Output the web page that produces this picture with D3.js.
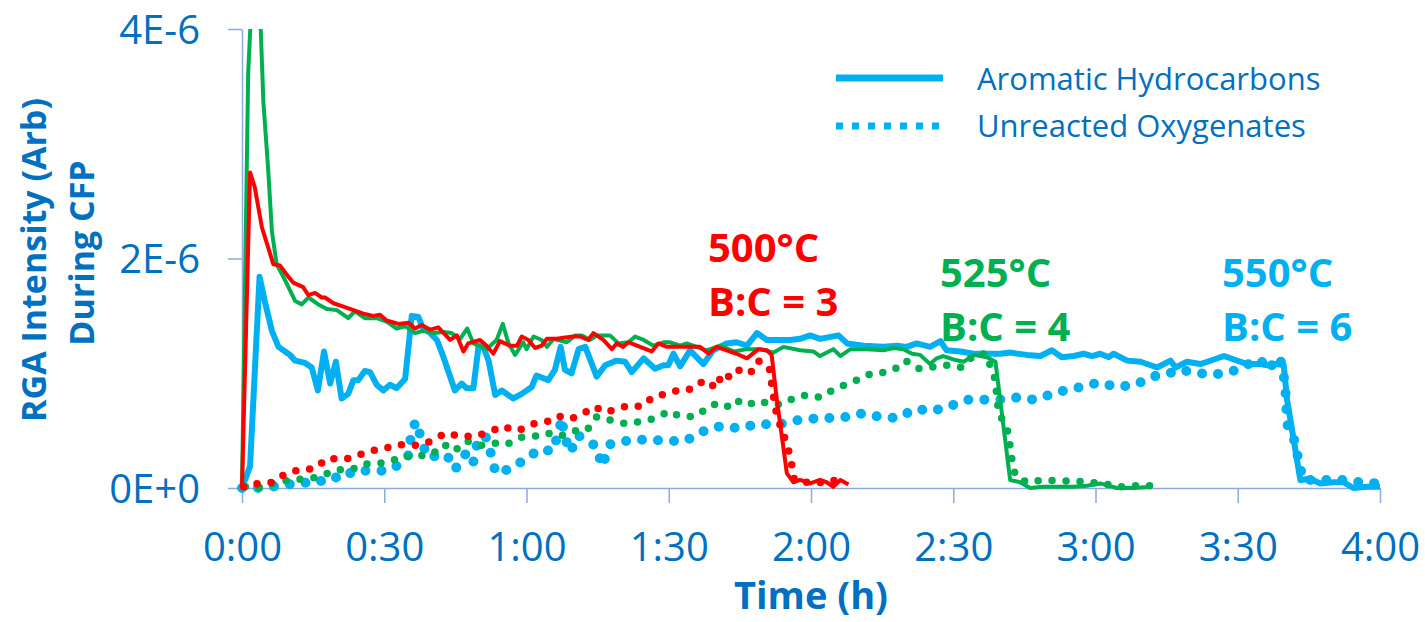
<!DOCTYPE html>
<html>
<head>
  <meta charset="UTF-8">
  <title>RGA Intensity During CFP</title>
  <style>
    body { margin: 0; background: #fff; }
    svg { display: block; font-family: "Open Sans", sans-serif; }
  </style>
</head>
<body>
<svg></svg>
<script src="https://d3js.org/d3.v7.min.js"></script>
<script>

let width = 1425, height = 622;

// time in minutes, intensity in units of 1E-6
const arom500 = [[0,0],[1.7,2.75],[2.7,2.62],[4.2,2.27],[5.5,2.10],[6.6,1.95],[8,1.94],[9.8,1.84],[10.8,1.79],[12.9,1.75],[14,1.68],[15.4,1.70],[16.8,1.66],[17.5,1.66],[19.3,1.61],[21.4,1.58],[23.5,1.55],[25.6,1.52],[27.7,1.50],[29.1,1.51],[30.5,1.46],[33,1.43],[35.1,1.44],[36.5,1.39],[37.9,1.42],[39.7,1.38],[41.4,1.40],[43.9,1.29],[45.3,1.33],[46.7,1.19],[47.7,1.26],[50.2,1.29],[51.6,1.24],[53,1.17],[54.4,1.28],[56.5,1.24],[58,1.24],[59,1.32],[60.4,1.29],[61.8,1.22],[63.2,1.24],[64.3,1.30],[66.4,1.30],[67.8,1.31],[69.9,1.32],[71.3,1.32],[73,1.29],[74.1,1.35],[76.2,1.29],[78,1.21],[79,1.26],[80.4,1.23],[81.5,1.27],[83.3,1.24],[86.4,1.19],[87.8,1.26],[89.6,1.23],[92.4,1.23],[96.6,1.23],[98.4,1.17],[100.1,1.23],[102.2,1.20],[104.3,1.17],[106.5,1.13],[108.9,1.21],[110.7,1.20],[111.7,1.16],[112.8,0.77],[114.9,0.13],[116.3,0.05],[117.7,0.07],[119.8,0.04],[121.9,0.07],[123.3,0.05],[124.7,0.01],[126.2,0.07],[127.9,0.03]];
const oxy500 = [[0.3,0.01],[3.4,0.04],[6.6,0.05],[9.4,0.13],[12.2,0.16],[15.4,0.17],[18,0.26],[21.4,0.25],[23.8,0.27],[26.4,0.32],[29.8,0.34],[32.6,0.38],[35.8,0.37],[38.2,0.38],[40.5,0.42],[43,0.48],[46,0.45],[49.2,0.45],[52.2,0.49],[55.1,0.54],[57.4,0.50],[59.7,0.52],[61.6,0.56],[64.4,0.58],[66.5,0.63],[69.2,0.60],[71.7,0.64],[74.3,0.71],[76.8,0.66],[79,0.69],[81.9,0.72],[84.3,0.71],[86.9,0.80],[89.7,0.82],[92.4,0.86],[95,0.86],[97.5,0.94],[100.1,0.87],[101.2,1.00],[103.3,0.96],[104.9,1.03],[107.2,1.00],[108.8,1.11],[111.2,1.05],[111.7,0.91],[112.2,0.77],[112.8,0.63],[113.9,0.50],[115.1,0.36],[115.8,0.23],[116.5,0.07],[119,0.05],[121.5,0.04],[123.5,0.07],[126,0.06]];

const arom525 = [[0,0],[1.3,3.61],[2.2,4.4],[3.6,4.4],[4.5,3.37],[5.5,2.79],[6.3,2.24],[7.3,1.95],[9.1,1.81],[11.2,1.63],[12.6,1.60],[14,1.66],[16.1,1.60],[17.9,1.56],[20,1.55],[22.4,1.48],[23.8,1.54],[25.9,1.48],[28.4,1.48],[30.5,1.45],[32.6,1.39],[34.4,1.41],[36.5,1.35],[38.2,1.37],[40.4,1.35],[42.5,1.36],[44.2,1.35],[46,1.30],[47.5,1.39],[48.8,1.26],[51.6,1.21],[53.7,1.29],[55,1.43],[56.2,1.26],[57.6,1.16],[59.3,1.27],[60,1.21],[61.5,1.32],[63.2,1.29],[64.3,1.23],[65.7,1.30],[68.5,1.27],[70.3,1.33],[71.7,1.33],[73.4,1.29],[74.8,1.33],[77.6,1.33],[79.4,1.26],[81.5,1.27],[82.9,1.32],[84.7,1.29],[86.8,1.24],[88.9,1.27],[90.3,1.27],[92.4,1.24],[93.8,1.26],[98,1.20],[100.8,1.24],[103.7,1.19],[106.5,1.21],[109.3,1.21],[112.1,1.18],[114.2,1.23],[117.7,1.20],[120.5,1.19],[121.9,1.15],[124.7,1.21],[126.2,1.15],[128.3,1.21],[131.8,1.21],[135.3,1.20],[137.4,1.22],[139.5,1.21],[141.3,1.17],[143,1.16],[145.1,1.08],[146.5,1.13],[147.9,1.15],[150,1.12],[152.2,1.10],[154.3,1.16],[157.1,1.14],[158.9,1.10],[159.9,0.77],[162,0.07],[164.1,0.05],[166.2,0.0],[169,0.01],[175.4,0.01],[178.2,0.02],[181,0.04],[184.5,0],[188,0],[191.9,0.01]];
const oxy525 = [[0.7,0.01],[4.2,0],[7.3,0.05],[10.5,0.07],[13.6,0.08],[16.6,0.10],[19.8,0.16],[23.1,0.16],[25.6,0.21],[28.2,0.21],[31.2,0.23],[33.7,0.27],[36.9,0.28],[40,0.29],[42.6,0.38],[44.7,0.32],[47.4,0.41],[50.2,0.37],[53.2,0.39],[55.8,0.38],[58.6,0.44],[61.6,0.45],[64.3,0.48],[67.1,0.45],[69.9,0.50],[72.7,0.50],[74.8,0.62],[77.8,0.59],[81,0.56],[84.3,0.58],[87.3,0.61],[90.1,0.67],[92,0.63],[95.2,0.62],[97.2,0.67],[99.4,0.73],[102.1,0.70],[104,0.77],[106.3,0.72],[109.1,0.76],[111.4,0.73],[113.9,0.73],[116.7,0.79],[119.2,0.81],[121.9,0.79],[124.5,0.85],[127.2,0.90],[130.2,0.95],[132.8,1.00],[134.6,1.00],[137.5,1.03],[139.9,1.11],[142.7,1.04],[148.6,1.07],[151.8,1.05],[154.4,1.16],[156.9,1.17],[158.9,0.94],[159.2,0.79],[159.6,0.65],[161.3,0.53],[161.9,0.39],[162.4,0.24],[163.1,0.11],[165.5,0.05],[168.9,0.07],[172.4,0.06],[175.4,0.06],[178.5,0.05],[181.7,0.04],[184.9,0.01],[188.4,0.02],[191.7,0.02]];

const arom550 = [[0,0],[1.7,0.19],[3.7,1.84],[4.9,1.61],[6.3,1.37],[7.7,1.23],[9.1,1.19],[10.1,1.16],[11.2,1.11],[13.3,1.09],[14.7,1.05],[16,0.85],[17.3,1.19],[18.6,0.91],[19.8,1.10],[21,0.78],[22.4,0.82],[23.5,0.94],[24.5,0.94],[25.9,1.02],[27,1.01],[28.4,0.90],[29.8,0.85],[31.2,0.90],[32.6,0.87],[34.4,0.95],[35.8,1.50],[37.2,1.49],[38.2,1.39],[39.7,1.35],[41.1,1.29],[42.5,1.14],[43.9,0.97],[44.9,0.85],[46.3,0.91],[47.4,0.87],[48.8,0.87],[49.9,1.24],[50.9,1.23],[52,1.11],[53.4,0.81],[54.8,0.85],[57.2,0.78],[59,0.82],[61.1,0.88],[62.1,0.98],[64.6,0.94],[66,1.03],[67.2,1.23],[68.1,1.03],[69.5,1.00],[71,1.21],[72.4,1.23],[74.8,0.97],[76.6,1.07],[79,1.11],[80.8,1.10],[82.2,1.01],[84.7,1.13],[87.1,1.04],[88.9,1.07],[89.9,1.07],[91,1.17],[92.4,1.06],[94.5,1.20],[97.3,1.08],[99.4,1.20],[102.2,1.26],[104.3,1.27],[106.5,1.24],[108.6,1.35],[110.7,1.29],[113.5,1.29],[115.6,1.29],[117.7,1.30],[119.8,1.33],[121.9,1.30],[125.8,1.33],[127.6,1.26],[131.1,1.24],[135.3,1.23],[138.1,1.24],[140.2,1.23],[142.3,1.26],[145.1,1.23],[147.3,1.28],[148.6,1.20],[151.5,1.19],[154.3,1.17],[157.1,1.17],[159.9,1.17],[162,1.18],[165.5,1.16],[168.4,1.15],[170.8,1.20],[172.9,1.14],[175.4,1.15],[177.5,1.17],[179.3,1.15],[181,1.17],[182.8,1.14],[183.8,1.17],[186.7,1.11],[189.5,1.10],[193,1.05],[195.8,1.11],[196.9,1.05],[199.3,1.10],[202.1,1.08],[205,1.12],[207.1,1.15],[209.2,1.12],[212,1.08],[214.8,1.08],[216.2,1.07],[218.3,1.08],[219.7,1.07],[220.4,0.77],[221.8,0.42],[223.2,0.07],[225.3,0.08],[227.4,0.04],[230.2,0.05],[232.3,0.05],[234.4,0],[237.3,0.01],[240,0.01]];
const oxy550 = [[0,0],[4,0],[8.4,0.02],[12.2,0.05],[15.4,0.04],[18.9,0.10],[20.9,0.08],[23.6,0.15],[27.1,0.15],[30.5,0.15],[33.5,0.21],[35.2,0.29],[35.6,0.45],[36.6,0.58],[37.9,0.42],[39,0.27],[43.2,0.29],[44.9,0.16],[47.2,0.30],[48.7,0.21],[49.5,0.37],[51.3,0.46],[52.5,0.30],[53.5,0.13],[56.8,0.17],[60.1,0.26],[62.9,0.34],[65.5,0.32],[66.9,0.50],[67.4,0.61],[68,0.45],[69.3,0.31],[70.7,0.46],[72.2,0.43],[74.8,0.36],[75.9,0.19],[76.6,0.26],[77.6,0.38],[81,0.41],[84,0.42],[86.4,0.42],[89.9,0.41],[93.5,0.41],[97,0.49],[101,0.54],[104.9,0.52],[108.8,0.56],[112.8,0.55],[116.9,0.59],[121.9,0.61],[124.2,0.61],[127.6,0.62],[130.8,0.65],[134.6,0.62],[138.3,0.61],[142,0.69],[145.7,0.67],[149.7,0.72],[153.2,0.77],[156.2,0.77],[159.6,0.77],[162.9,0.79],[166.4,0.77],[169.4,0.80],[173.4,0.85],[177,0.88],[180.7,0.92],[184.5,0.88],[188.4,0.90],[192,0.97],[195.6,1.00],[197.9,1.03],[201.4,1.00],[205.3,0.99],[209,1.02],[212.3,1.08],[214.8,1.12],[216.2,1.03],[218.9,1.14],[220,0.91],[220.2,0.72],[220.5,0.55],[222.2,0.39],[222.9,0.21],[223.9,0.07],[228.5,0.07],[232,0.07],[235.8,0.05],[239.7,0.04]];

const xTicks = [0, 30, 60, 90, 120, 150, 180, 210, 240];
const xTickLabels = ["0:00","0:30","1:00","1:30","2:00","2:30","3:00","3:30","4:00"];
const yTicks = [0, 2, 4];
const yTickLabels = ["0E+0","2E-6","4E-6"];

const legendLabels = ["Aromatic Hydrocarbons", "Unreacted Oxygenates"];
const runLabels = [["500°C","B:C = 3"],["525°C","B:C = 4"],["550°C","B:C = 6"]];

const red = "#FF0000", green = "#00B050", blue = "#00B0F0", textBlue = "#0070C0", axisCol = "#8FAADC";

let svg = d3.select("svg")
    .attr("width", width)
    .attr("height", height)
    .attr("viewBox", "0 0 " + width + " " + height);

let x = d3.scaleLinear().domain([0, 240]).range([242, 1380]);
let y = d3.scaleLinear().domain([0, 4]).range([488, 29]);

// axes
let xAxis = d3.axisBottom(x).tickValues(xTicks)
    .tickFormat((d, i) => xTickLabels[i]).tickSizeInner(15).tickSizeOuter(0).tickPadding(30);
let gx = svg.append("g").attr("transform", "translate(0," + y(0) + ")").call(xAxis);

let yAxis = d3.axisLeft(y).tickValues(yTicks)
    .tickFormat((d, i) => yTickLabels[i]).tickSizeInner(14).tickSizeOuter(0).tickPadding(28);
let gy = svg.append("g").attr("transform", "translate(" + x(0) + ",0)").call(yAxis);

[gx, gy].forEach(g => {
  g.select(".domain").attr("stroke", axisCol).attr("stroke-width", 1.5);
  g.selectAll(".tick line").attr("stroke", axisCol).attr("stroke-width", 1.5);
  g.selectAll(".tick text")
    .attr("fill", textBlue)
    .style("font-family", "Open Sans")
    .style("font-size", "40px");
});
gx.selectAll(".tick text").attr("dy", "0.71em");
gy.selectAll(".tick text").attr("dy", "0.36em");

// axis titles
svg.append("text")
  .attr("x", 811).attr("y", 609)
  .attr("text-anchor", "middle")
  .attr("fill", textBlue)
  .style("font-weight", "bold").style("font-size", "38px")
  .text("Time (h)");

svg.append("text")
  .attr("transform", "translate(46,260) rotate(-90)")
  .attr("text-anchor", "middle")
  .attr("fill", textBlue)
  .style("font-weight", "bold").style("font-size", "34px")
  .text("RGA Intensity (Arb)");
svg.append("text")
  .attr("transform", "translate(94,253) rotate(-90)")
  .attr("text-anchor", "middle")
  .attr("fill", textBlue)
  .style("font-weight", "bold").style("font-size", "34px")
  .text("During CFP");

// plot clip
svg.append("clipPath").attr("id", "plotclip")
  .append("rect").attr("x", 236).attr("y", y(4)).attr("width", 1160).attr("height", y(0) - y(4) + 10);

let line = d3.line().x(d => x(d[0])).y(d => y(d[1]));
let plot = svg.append("g").attr("clip-path", "url(#plotclip)");

let series = [
  {data: arom550, color: blue, w: 6, dash: null},
  {data: oxy550, color: blue, w: 10, dash: "0 16"},
  {data: arom525, color: green, w: 4, dash: null},
  {data: oxy525, color: green, w: 7.5, dash: "0 14"},
  {data: arom500, color: red, w: 4, dash: null},
  {data: oxy500, color: red, w: 7.5, dash: "0 14"}
];

series.forEach(s => {
  plot.append("path")
    .datum(s.data)
    .attr("d", line)
    .attr("fill", "none")
    .attr("stroke", s.color)
    .attr("stroke-width", s.w)
    .attr("stroke-linejoin", "round")
    .attr("stroke-linecap", s.dash ? "round" : "butt")
    .attr("stroke-dasharray", s.dash);
});

// legend
let legend = svg.append("g");
legend.append("line")
  .attr("x1", 836).attr("x2", 943).attr("y1", 78).attr("y2", 78)
  .attr("stroke", blue).attr("stroke-width", 7);
legend.append("line")
  .attr("x1", 836).attr("x2", 943).attr("y1", 126).attr("y2", 126)
  .attr("stroke", blue).attr("stroke-width", 7).attr("stroke-dasharray", "7 9");
legendLabels.forEach((t, i) => {
  legend.append("text")
    .attr("x", 977).attr("y", 90 + i * 47)
    .attr("fill", textBlue)
    .style("font-size", "31px")
    .text(t);
});

// run annotations
let runPos = [[708, 262], [940, 287], [1222, 287]];
let runCol = [red, green, blue];
runLabels.forEach((lines, i) => {
  lines.forEach((t, j) => {
    svg.append("text")
      .attr("x", runPos[i][0]).attr("y", runPos[i][1] + j * 54)
      .attr("fill", runCol[i])
      .style("font-weight", "bold").style("font-size", "40px")
      .text(t);
  });
});

</script>
</body>
</html>
